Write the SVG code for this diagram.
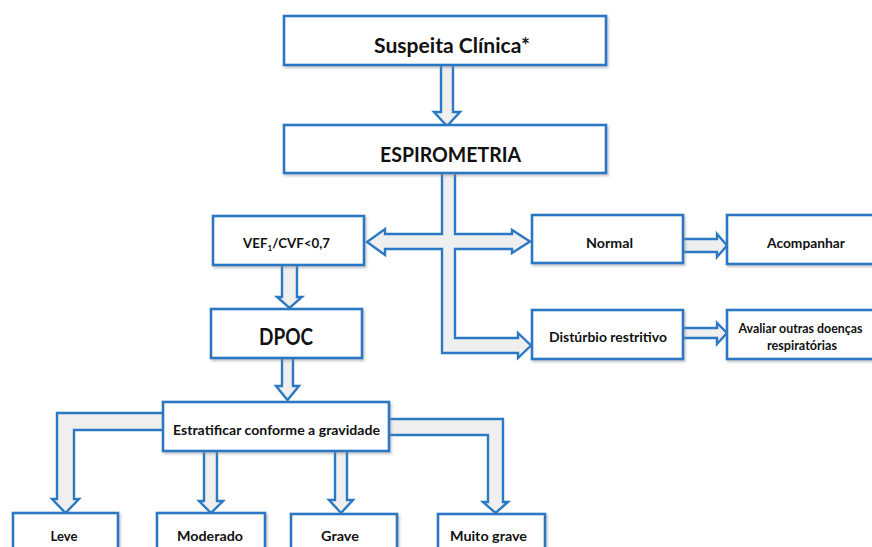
<svg xmlns="http://www.w3.org/2000/svg" width="872" height="547" viewBox="0 0 872 547">
<defs>
<filter id="sh" x="-10%" y="-10%" width="120%" height="130%">
<feDropShadow dx="1.5" dy="2" stdDeviation="1.2" flood-color="#8a8a8a" flood-opacity="0.45"/>
</filter>
<style>
.box{fill:#ffffff;stroke:#2b78c3;stroke-width:2.6;filter:url(#sh)}
.arr{fill:#efefef;stroke:#2b78c3;stroke-width:2.4;stroke-linejoin:miter}
.t{font-family:Lato,"Liberation Sans",sans-serif;font-weight:700;fill:#111;text-anchor:middle;font-size:14px}
.big{font-size:20px}
</style>
</defs>
<rect width="872" height="547" fill="#ffffff"/>
<g id="connectors">
<polygon class="arr" points="441,62 453,62 453,112 460,112 447,126 434,112 441,112"/>
<polygon class="arr" points="442,170 442,234 385,234 385,229 367,242 385,255 385,249 442,249 442,353 518,353 518,358 531,345.5 518,333 518,338 455,338 455,249 512,249 512,253 530,241.5 512,230 512,234 455,234 455,170"/>
<polygon class="arr" points="282,262 297,262 297,297 302,297 289.5,308 277,297 282,297"/>
<polygon class="arr" points="282,355 293,355 293,386 299,386 287.5,400 276,386 282,386"/>
<polygon class="arr" points="166,413 57,413 57,499 52,499 65.5,513 79,499 74,499 74,430 166,430"/>
<polygon class="arr" points="204,448 217,448 217,501 223,501 211,513 199,501 204,501"/>
<polygon class="arr" points="335,448 347,448 347,500 353,500 341,513 329,500 335,500"/>
<polygon class="arr" points="386,419 503,419 503,502 508,502 495.5,513 483,502 488,502 488,435 386,435"/>
<polygon class="arr" points="680,239 717,239 717,234 727,245.5 717,257 717,252 680,252"/>
<polygon class="arr" points="680,328 717,328 717,323 727,333 717,344 717,338 680,338"/>
</g>
<g id="suspeita"><rect class="box" x="284" y="16" width="322" height="49"/><text class="t big" x="452" y="53" textLength="156" lengthAdjust="spacingAndGlyphs">Suspeita Clínica*</text></g>
<g id="espirometria"><rect class="box" x="284" y="125" width="322" height="48"/><text class="t big" x="450.5" y="162" textLength="141" lengthAdjust="spacingAndGlyphs">ESPIROMETRIA</text></g>
<g id="vef"><rect class="box" x="213" y="216" width="151" height="49"/><text class="t" style="font-size:13px" x="286.5" y="248" textLength="87" lengthAdjust="spacingAndGlyphs">VEF<tspan style="font-size:8px" dy="3">1</tspan><tspan dy="-3">/CVF&lt;0,7</tspan></text></g>
<g id="dpoc"><rect class="box" x="211" y="309" width="151" height="49"/><text class="t" style="font-size:23px" x="286" y="345" textLength="54" lengthAdjust="spacingAndGlyphs">DPOC</text></g>
<g id="estratificar"><rect class="box" x="163" y="402" width="226" height="49"/><text class="t" x="276.5" y="435" textLength="207" lengthAdjust="spacingAndGlyphs">Estratificar conforme a gravidade</text></g>
<g id="normal"><rect class="box" x="532" y="215" width="151" height="48"/><text class="t" x="609.5" y="248" textLength="47" lengthAdjust="spacingAndGlyphs">Normal</text></g>
<g id="acompanhar"><rect class="box" x="727" y="215" width="150" height="49"/><text class="t" x="806" y="248" textLength="78" lengthAdjust="spacingAndGlyphs">Acompanhar</text></g>
<g id="disturbio"><rect class="box" x="532" y="310" width="151" height="49"/><text class="t" x="608" y="342" textLength="118" lengthAdjust="spacingAndGlyphs">Distúrbio restritivo</text></g>
<g id="avaliar"><rect class="box" x="727" y="310" width="150" height="49"/><text class="t" x="800.5" y="333" textLength="124" lengthAdjust="spacingAndGlyphs">Avaliar outras doenças</text><text class="t" x="802" y="350" textLength="70" lengthAdjust="spacingAndGlyphs">respiratórias</text></g>
<g id="leve"><rect class="box" x="13" y="513" width="105" height="50"/><text class="t" x="64" y="541" textLength="27" lengthAdjust="spacingAndGlyphs">Leve</text></g>
<g id="moderado"><rect class="box" x="157" y="513" width="108" height="50"/><text class="t" x="210" y="541" textLength="66" lengthAdjust="spacingAndGlyphs">Moderado</text></g>
<g id="grave"><rect class="box" x="291" y="514" width="106" height="50"/><text class="t" x="340" y="541" textLength="38" lengthAdjust="spacingAndGlyphs">Grave</text></g>
<g id="muito-grave"><rect class="box" x="438" y="514" width="107" height="50"/><text class="t" x="488.5" y="541" textLength="77" lengthAdjust="spacingAndGlyphs">Muito grave</text></g>
</svg>
